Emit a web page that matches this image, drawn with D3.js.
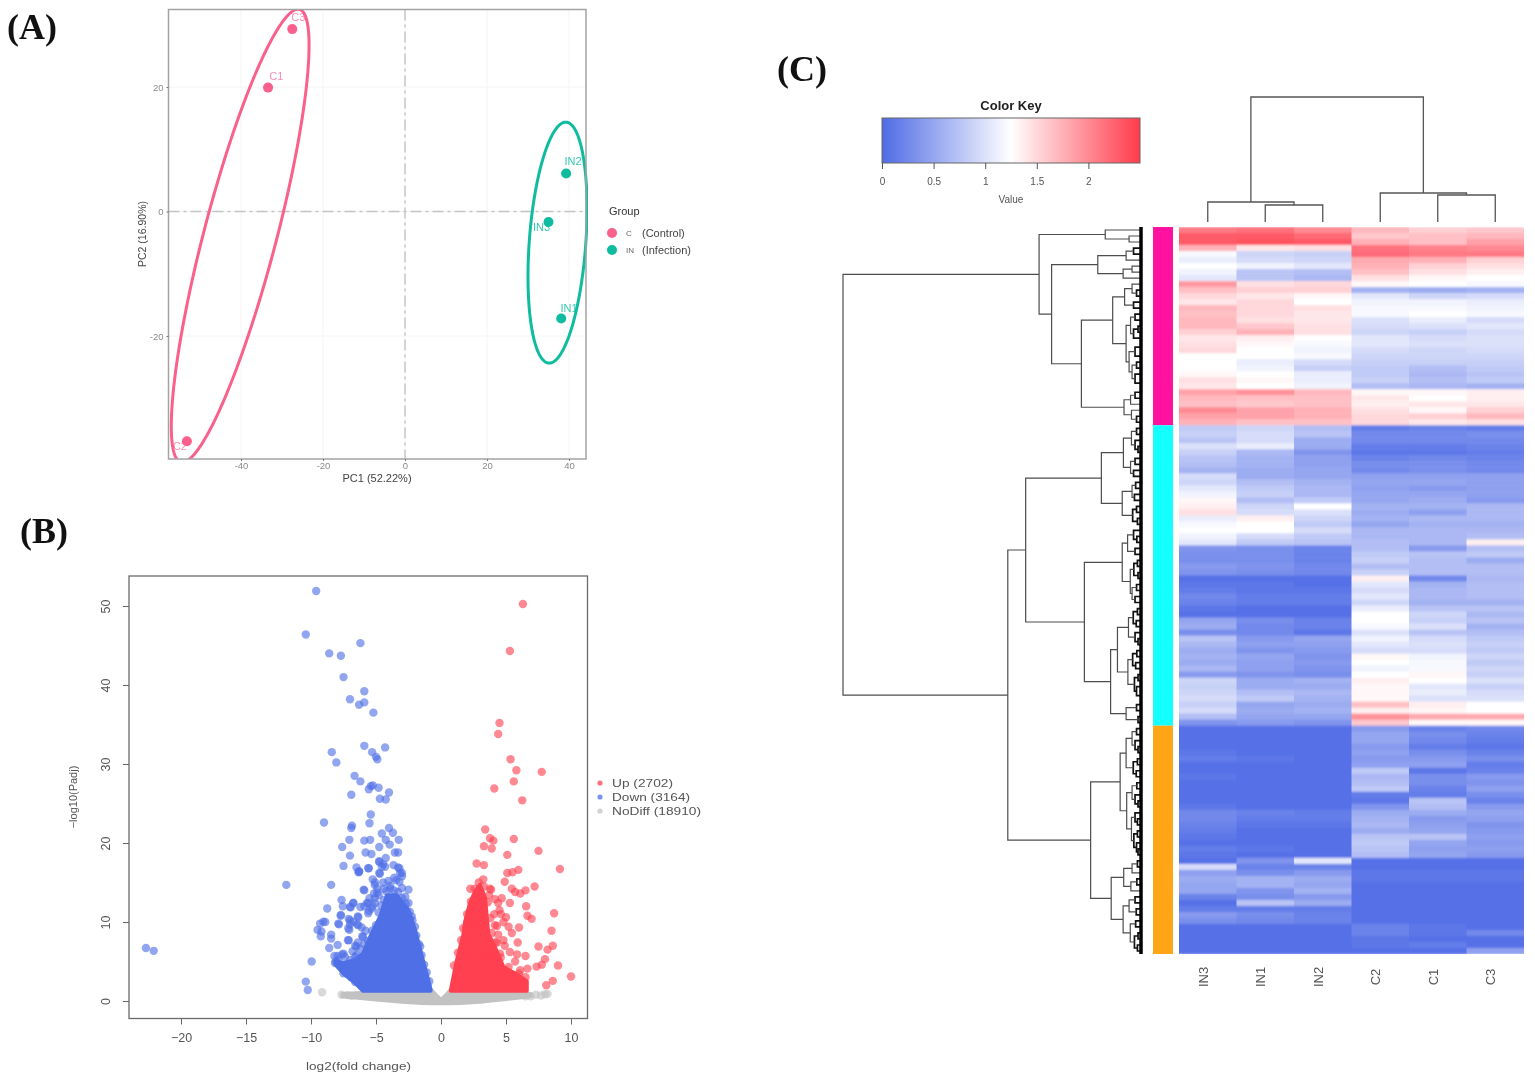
<!DOCTYPE html>
<html>
<head>
<meta charset="utf-8">
<title>PCA, volcano plot and heatmap</title>
<script src="https://cdn.jsdelivr.net/npm/d3@7"></script>
<style>
  html, body { margin: 0; padding: 0; background: #fff; }
  svg { display: block; filter: blur(0.45px); font-family: "Liberation Sans", Arial, sans-serif; }
</style>
</head>
<body>
<div id="chart"></div>
<script>
// ---- panel A: PCA ----
const pcaNames = ["C3", "C1", "C2", "IN2", "IN3", "IN1"]
const pcaGroups = ["C", "C", "C", "IN", "IN", "IN"]
const pcaX = [-27.5, -33.4, -53.2, 39.3, 35.0, 38.1]
const pcaY = [29.3, 19.9, -36.9, 6.1, -1.7, -17.2]
const pcaLabelDx = [1.5, 2, -1.7, 1.7, -1.7, 1.9]
const pcaLabelDy = [1.3, 1.3, -1.4, 1.4, -1.4, 1.1]
const pcaTicks = [-40, -20, 0, 20, 40]
const pcaYTicks = [-20, 0, 20]
const ellipseGroups = ["C", "IN"]
const ellipseCx = [-40.2, 37.2]
const ellipseCy = [-3.9, -5.0]
const ellipseSdX = [16.8, 7.2]
const ellipseSdY = [36.4, 19.35]
const ellipseRho = [0.84, 0.28]

// ---- panel B: volcano ----
const downX = [-9.6,-10.4,-6.2,-8.6,-7.7,-7.5,-5.9,-7.0,-6.3,-5.9,-5.2,-5.9,-4.3,-5.3,-8.4,-5.0,-4.9,-8.05,-6.65,-6.2,-5.4,-5.25,-5.55,-4.8,-4.0,-6.9,-4.7,-4.25,-5.4,-9.0,-5.5,-6.85,-6.9,-4.0,-3.7,-4.55,-7.05,-5.9,-5.45,-4.25,-3.25,-3.95,-7.6,-4.75,-5.8,-5.35,-3.55,-3.3,-7.0,-4.25,-4.75,-4.45,-7.5,-6.5,-5.55,-3.65,-3.3,-6.35,-4.7,-3.15,-3.0,-11.9,-8.45,-5.25,-4.05,-5.1,-5.95,-4.9,-2.5,-7.65,-6.75,-8.75,-7.0,-7.55,-5.7,-5.25,-5.55,-2.5,-7.7,-6.4,-9.05,-8.9,-7.9,-7.0,-6.45,-7.1,-9.5,-9.2,-9.25,-8.45,-7.05,-6.05,-8.45,-7.15,-8.6,-7.95,-6.5,-22.7,-22.1,-9.95,-8.1,-7.95,-7.6,-10.4,-10.25,
  -6.74,-9.3,-7.72,-7.85,-7.13,-7.0,-6.36,-6.36,-7.1,-6.0,-6.6,-5.6,-5.33,-5.6,-5.07,-6.6,-7.5,-7.9,-8.15,-7.5,-7.0,-6.3,-4.75,-4.55,-4.3,-3.2,-4.75,-3.0,-6.3,-5.6,-5.07,-3.45,-3.2,-3.0,-5.9,-4.9,-4.8,-2.75,-2.25,-2.0,-1.6,-6.95,-6.2,-5.9,-5.1,-6.75,-4.45,-3.9,-3.6,-4.4,-5.15,-5.5,
  -7.2,-6.9,-6.6,-7.0,-6.5,-6.2,-5.9,-5.6,-5.3,-5.0,-4.8,-4.6,-4.4,-4.2,-3.9,-3.6,-3.3,-3.0,-2.7,-2.4,-2.2,-1.9,-1.7,-1.5,-1.3,-1.1,-0.9,-5.8,-6.4,-6.8,-7.4,-7.8,-8.2,-6.1]
const downY = [51.9,46.4,45.3,44.0,43.7,41.0,39.2,38.2,37.5,37.8,36.5,32.3,32.1,31.5,31.5,30.9,30.6,30.2,28.5,27.8,27.2,27.3,26.8,27.0,26.4,26.1,25.6,25.5,23.6,22.6,22.5,22.2,21.9,21.9,21.3,21.2,20.4,20.3,20.4,20.4,20.4,19.8,19.5,19.5,18.8,18.6,18.8,18.8,18.4,18.1,17.7,17.3,17.1,16.9,16.8,17.2,16.9,16.3,16.1,16.2,15.8,14.7,14.7,15.4,15.2,14.7,14.1,13.7,14.1,12.8,12.4,11.7,11.9,12.0,12.4,12.0,11.4,12.4,10.9,10.7,10.05,10.0,9.8,9.7,9.7,10.4,9.0,8.8,8.2,8.4,9.0,8.2,7.9,7.7,6.7,7.1,6.9,6.7,6.35,5.0,5.0,5.7,5.9,2.45,1.4,
  12.4,9.8,10.8,9.7,9.2,10.2,10.6,9.6,7.7,8.1,7.0,12.4,11.7,11.1,12.4,5.6,6.0,5.2,4.8,3.5,4.35,16.4,17.6,17.0,17.0,16.8,16.2,16.2,16.4,16.8,15.0,15.3,15.1,14.3,14.0,14.2,13.4,13.2,10.7,9.4,6.9,11.85,11.9,12.0,13.0,10.0,15.0,14.6,15.6,14.2,13.6,13.0,
  3.4,3.0,2.4,5.2,5.8,6.6,7.2,7.6,8.9,9.6,11.2,12.1,12.8,13.9,14.2,14.0,13.8,13.0,12.3,11.3,10.2,8.3,7.2,5.8,4.6,3.6,2.5,8.9,7.4,6.3,5.6,4.6,5.7,9.3]
const upX = [6.3,5.3,4.5,4.4,5.35,5.8,7.75,5.6,4.1,6.25,3.4,3.77,4.03,3.3,3.9,5.6,5.1,7.5,2.74,3.3,9.15,5.95,5.5,5.1,4.9,3.25,2.25,3.77,5.45,7.2,6.5,6.1,5.7,4.67,4.15,4.4,5.3,6.55,4.5,8.7,6.65,6.97,4.8,4.15,5.2,6.0,5.45,8.5,5.9,7.5,8.6,8.2,4.4,4.54,5.85,6.5,5.7,4.0,8.0,7.75,7.35,9.0,6.65,6.1,10.0,8.6,8.1,4.8,4.0,3.85,4.6,5.0,4.3,
  1.0,1.3,1.55,1.7,2.0,2.3,2.6,2.9,3.3,3.6,3.8,3.9,4.2,4.6,5.2,6.0,6.5,3.7,4.1,4.3,4.9,5.3,5.3,6.4]
const upY = [50.25,44.3,35.2,33.8,30.6,29.2,29.0,27.8,26.9,25.4,21.7,20.6,20.3,19.6,19.3,20.5,18.5,19.0,17.4,17.2,16.7,16.6,16.3,16.2,15.1,15.4,14.2,14.2,14.2,14.5,14.0,13.6,13.8,13.0,12.9,12.4,12.4,12.0,11.5,11.1,10.8,10.4,10.0,9.6,9.4,9.3,8.6,8.9,7.4,6.9,7.0,6.5,8.4,6.0,5.9,5.7,5.0,4.8,5.3,4.6,4.35,4.5,4.1,3.9,3.1,2.55,2.0,7.7,6.5,14.1,11.0,10.6,7.4,
  4.5,6.1,7.7,9.2,11.0,12.6,14.2,15.0,14.5,12.5,10.5,8.6,7.4,5.5,4.3,3.5,3.0,13.4,11.0,9.5,7.0,6.2,3.4,2.2]
const noDiffX = [-9.15,-7.65,6.5,7.3,8.2,8.0,7.7,-7.2,-6.9,6.9]
const noDiffY = [1.1,0.8,0.6,0.8,0.9,0.85,0.7,0.75,0.65,0.6]
// outline of the solid part of each cloud
const downCloudX = [-8.1,-7.5,-6.6,-6.0,-5.45,-4.7,-4.15,-3.4,-2.5,-2.0,-1.4,-0.8]
const downCloudTop = [5.0,4.8,5.2,6.0,8.1,10.6,13.4,13.4,11.5,9.0,5.2,1.5]
const downCloudBottom = [4.6,3.5,2.3,1.3,1.3,1.3,1.3,1.3,1.3,1.3,1.3,1.3]
const upCloudX = [0.75,1.2,1.72,1.85,2.2,2.6,3.0,3.4,3.5,3.64,4.15,4.8,5.8,6.6]
const upCloudTop = [1.3,5.0,8.4,10.0,12.2,13.8,14.7,13.0,11.0,8.5,6.8,4.3,3.4,2.5]
const upCloudBottom = [1.3,1.3,1.3,1.3,1.3,1.3,1.3,1.3,1.3,1.3,1.3,1.3,1.3,1.3]
const grayCloudX = [-7.6,-5.0,-3.0,-1.5,-0.7,-0.3,0.0,0.3,0.7,1.5,3.0,5.0,6.9]
const grayCloudTop = [0.9,1.1,1.3,1.3,1.3,0.6,0.1,0.6,1.3,1.3,1.3,1.1,0.9]
const grayCloudBottom = [0.6,0.2,-0.1,-0.25,-0.3,-0.3,-0.3,-0.3,-0.3,-0.25,-0.1,0.25,0.6]
const volcanoXTicks = [-20, -15, -10, -5, 0, 5, 10]
const volcanoYTicks = [0, 10, 20, 30, 40, 50]
const volcanoLegend = ["Up (2702)", "Down (3164)", "NoDiff (18910)"]
const volcanoLegendWidths = [61, 78, 89]

// ---- panel C: heatmap ----
const heatCols = ["IN3", "IN1", "IN2", "C2", "C1", "C3"]
const keyTicks = [0, 0.5, 1, 1.5, 2]
const clusterSizes = [33, 50, 38]
// one line per row, same order as heatCols
const heatRows = [
[2.1,2.15,2.0,1.7,1.55,1.6],[2.3,2.3,2.2,1.6,1.65,1.7],[2.3,2.35,2.3,1.75,1.65,1.85],[1.75,1.4,1.45,2.15,2.05,2.0],
[1.2,0.9,0.85,2.2,2.1,2.1],[1.1,0.95,0.9,1.8,1.75,1.55],[1.25,1.15,1.05,1.75,1.55,1.45],[1.15,0.75,0.7,1.65,1.45,1.35],
[1.05,0.75,0.65,1.45,1.3,1.25],[1.9,1.45,1.5,1.3,1.25,1.2],[1.65,1.55,1.55,0.6,0.55,0.6],[1.5,1.4,1.3,1.05,0.9,0.95],
[1.4,1.5,1.25,1.15,1.15,1.1],[1.7,1.5,1.45,1.2,1.2,1.15],[1.65,1.5,1.4,1.2,1.25,1.2],[1.7,1.45,1.4,1.0,1.1,0.95],
[1.7,1.6,1.45,0.95,1.0,1.05],[1.55,1.75,1.45,0.9,0.85,0.95],[1.4,1.35,1.25,1.05,0.95,1.0],[1.45,1.3,1.2,1.05,1.0,1.0],
[1.5,1.25,1.15,0.95,0.9,0.95],[1.25,1.25,1.2,0.9,0.9,0.9],[1.25,1.1,0.95,0.85,0.85,0.85],[1.25,1.15,0.85,0.8,0.7,0.8],
[1.3,1.25,1.1,0.8,0.65,0.75],[1.45,1.3,1.1,0.85,0.7,0.8],[1.4,1.25,1.15,0.7,0.65,0.6],[1.85,1.95,1.7,1.3,1.3,1.35],
[1.7,1.65,1.65,1.4,1.25,1.35],[1.65,1.6,1.65,1.35,1.4,1.4],[2.0,1.85,1.75,1.45,1.3,1.55],[1.85,1.85,1.75,1.5,1.55,1.7],
[1.75,1.65,1.65,1.5,1.4,1.45],
[0.8,0.9,0.7,0.15,0.2,0.15],[0.85,0.95,0.75,0.25,0.25,0.3],[0.75,0.95,0.55,0.25,0.25,0.25],[1.0,1.1,0.55,0.15,0.15,0.2],
[0.85,0.65,0.35,0.1,0.1,0.15],[0.75,0.6,0.45,0.2,0.25,0.2],[0.7,0.6,0.45,0.3,0.3,0.25],[0.6,0.55,0.5,0.25,0.3,0.25],
[0.95,0.55,0.5,0.45,0.45,0.45],[0.9,0.7,0.6,0.5,0.5,0.45],[1.05,0.8,0.65,0.45,0.4,0.45],[1.15,0.85,0.65,0.5,0.5,0.45],
[1.3,0.7,0.8,0.5,0.55,0.4],[1.35,0.9,1.25,0.6,0.6,0.65],[1.45,0.95,1.0,0.55,0.45,0.65],[1.1,1.35,0.9,0.6,0.65,0.65],
[1.2,1.25,0.8,0.5,0.6,0.6],[1.25,1.25,0.95,0.65,0.65,0.65],[1.15,0.95,0.8,0.65,0.65,0.7],[1.05,0.8,0.75,0.7,0.65,1.35],
[0.35,0.3,0.2,0.7,0.4,0.7],[0.3,0.3,0.2,0.8,0.75,0.8],[0.3,0.3,0.2,0.85,0.7,0.55],[0.4,0.35,0.25,0.7,0.7,0.7],
[0.35,0.3,0.25,0.85,0.7,0.7],[0.05,0.05,0.05,1.35,0.25,0.65],[0.1,0.1,0.05,1.05,0.6,0.7],[0.15,0.1,0.1,0.95,0.65,0.7],
[0.25,0.15,0.15,1.05,0.65,0.7],[0.2,0.15,0.15,0.9,0.6,0.6],[0.1,0.05,0.05,1.1,0.75,0.75],[0.05,0.05,0.05,1.25,0.9,0.65],
[0.5,0.3,0.2,1.25,0.85,0.75],[0.55,0.25,0.2,1.2,1.0,0.6],[0.3,0.25,0.1,1.0,0.75,0.7],[0.75,0.4,0.5,1.15,0.95,0.8],
[0.65,0.45,0.45,1.05,1.0,0.85],[0.55,0.35,0.4,0.95,0.95,0.8],[0.6,0.5,0.35,1.3,1.15,0.9],[0.55,0.45,0.4,1.25,1.2,0.8],
[0.65,0.45,0.35,1.15,1.2,0.9],[0.4,0.35,0.3,1.25,1.3,0.85],[0.9,0.55,0.6,1.35,1.25,1.0],[0.85,0.55,0.55,1.3,1.05,0.85],
[0.9,0.7,0.65,1.3,1.1,0.95],[0.95,0.8,0.6,1.3,1.0,1.0],[0.85,0.5,0.55,1.65,1.35,1.25],[0.95,0.55,0.6,1.35,1.3,1.25],
[0.7,0.5,0.5,1.95,1.8,1.8],[0.35,0.4,0.35,1.6,1.3,1.3],
[0.05,0.05,0.05,0.4,0.2,0.25],[0.05,0.05,0.05,0.5,0.3,0.2],[0.05,0.05,0.05,0.5,0.25,0.15],[0.05,0.05,0.05,0.4,0.15,0.1],
[0.1,0.05,0.05,0.45,0.3,0.2],[0.15,0.1,0.05,0.4,0.4,0.3],[0.05,0.05,0.05,0.45,0.45,0.15],[0.05,0.05,0.05,0.8,0.1,0.2],
[0.1,0.05,0.05,0.65,0.3,0.4],[0.05,0.05,0.05,0.7,0.3,0.35],[0.05,0.05,0.05,0.8,0.2,0.45],[0.05,0.05,0.05,0.15,0.15,0.3],
[0.05,0.05,0.05,0.1,0.75,0.2],[0.1,0.05,0.05,0.35,0.7,0.4],[0.25,0.2,0.15,0.55,0.55,0.5],[0.25,0.15,0.15,0.6,0.4,0.45],
[0.2,0.1,0.1,0.65,0.45,0.35],[0.15,0.05,0.05,0.55,0.5,0.4],[0.1,0.05,0.05,0.75,0.75,0.45],[0.05,0.05,0.05,0.8,0.5,0.4],
[0.15,0.1,0.05,0.75,0.45,0.45],[0.1,0.05,0.05,0.7,0.5,0.4],[0.05,0.35,1.05,0.05,0.05,0.05],[0.95,0.2,0.2,0.05,0.05,0.05],[0.45,0.3,0.4,0.1,0.1,0.1],
[0.55,0.6,0.55,0.1,0.1,0.1],[0.5,0.6,0.5,0.05,0.05,0.05],[0.5,0.35,0.6,0.05,0.05,0.05],[0.2,0.3,0.4,0.05,0.05,0.05],
[0.05,0.75,0.55,0.05,0.05,0.05],[0.15,0.15,0.15,0.05,0.05,0.05],[0.4,0.3,0.2,0.05,0.05,0.05],[0.3,0.25,0.2,0.05,0.05,0.05],
[0.05,0.05,0.05,0.2,0.1,0.05],[0.05,0.05,0.05,0.2,0.1,0.25],[0.05,0.05,0.05,0.1,0.05,0.05],[0.05,0.05,0.05,0.1,0.15,0.05],
[0.05,0.05,0.05,0.05,0.05,0.45]
]
// dendrograms: [height, left, right], a number is a leaf covering that many rows/cols
const colTree = [100, [16, 1, [13.6, 1, 1]], [23.2, 1, [21.6, 1, 1]]]
const rowTree = [100,
  [34.2,
    [12, 1, [4, 1, 1]],
    [30,
      [14.5, [5, [2.5, 1, 1], 1], [6, [3, 1, 1], 1]],
      [20,
        [9.5,
          [5.5, [3, 1, [1.5, 1, 1]], [2.5, 1, 1]],
          [5, [3.5, [2, 1, 1], [2.5, [1, 1, 1], 1]], [4, [2, 2, 1], [3, [1.5, 1, 1], [2, 1, 2]]]]],
        [5.7, [3.5, [2, 1, 1], 1], [3.2, 1, [1.5, 1, 1]]]]]],
  [44.7,
    [38.7,
      [13.3,
        [5.9, [3.2, [1.5, 1, 1], [2, 1, [1, 1, 1]]], [3.5, [2, 1, 1], [2.5, 1, 1]]],
        [6.3, [3, [1.8, 1, 1], [2.2, 1, 1]], [2.8, [1.5, 1, 1], [1.2, 1, 1]]]],
      [19,
        [6.3, [4.5, [2.5, 1, [1.4, 1, 1]], [2, 1, 1]], [3.6, [2.4, [1.2, 1, 1], [1, 1, 1]], [3, [1.5, 1, 1], [2, 1, 1]]]],
        [10.2,
          [7.9, [4.2, [2.6, [1.2, 1, 1], [1.6, 1, 1]], [2, 1, [1, 1, 1]]], [4.4, [2.8, [1.4, 1, 1], [1.8, 1, 1]], [2.2, [1, 1, 1], [1.5, 1, 2]]]],
          [5, [1.5, 1, 1], [1, 1, 1]]]]],
    [16.9,
      [7, [5, [3, [1.5, 1, 1], [2, 1, [1, 1, 1]]], [2.6, [1.2, 1, 1], [1.6, 1, 1]]], [4.8, [3, [1.4, 1, 1], [2, 1, [1, 1, 1]]], [3.2, [2, 1, [1.2, 1, 1]], [2.4, [1.2, 1, 1], [1.5, 1, [1, 1, 1]]]]]],
      [10, [5.8, [3, [1.2, 1, 1], 1], [3.4, [1.4, 1, 1], 1]], [6, [4, [2, 1, 1], [1.6, 1, 1]], [3.6, [1.8, 1, 1], [2.2, [1, 1, 1], [1.2, 1, 1]]]]]]]]

const groupColours = { C: "#f9608c", IN: "#0fbc9f" }
const labelColours = { C: "#f98fb0", IN: "#35c9b0" }
const svg = d3.select("#chart").append("svg").attr("width", 1535).attr("height", 1082)

function panelLabel(text, x, y) {
    svg.append("text").attr("x", x).attr("y", y).text(text)
        .style("font-family", "'Liberation Serif', serif")
        .style("font-weight", "bold").style("font-size", "36px").style("fill", "#111")
}

function drawPca() {
    const xScale = d3.scaleLinear().domain([-40, 40]).range([241, 569])
    const yScale = d3.scaleLinear().domain([-20, 20]).range([336, 87])
    const box = { l: 168.5, r: 586, t: 9.5, b: 459 }
    const g = svg.append("g")

    svg.append("clipPath").attr("id", "pcaClip").append("rect")
        .attr("x", box.l).attr("y", box.t).attr("width", box.r - box.l + 2).attr("height", box.b - box.t)

    // faint grid
    pcaTicks.forEach(t => g.append("line").attr("x1", xScale(t)).attr("x2", xScale(t))
        .attr("y1", box.t).attr("y2", box.b).style("stroke", "#f4f4f4"))
    pcaYTicks.forEach(t => g.append("line").attr("y1", yScale(t)).attr("y2", yScale(t))
        .attr("x1", box.l).attr("x2", box.r).style("stroke", "#f4f4f4"))

    // reference lines through the origin
    g.append("line").attr("x1", xScale(0)).attr("x2", xScale(0)).attr("y1", box.t).attr("y2", box.b)
        .style("stroke", "#c4c4c4").style("stroke-width", 1.4).style("stroke-dasharray", "11 4 3 4")
    g.append("line").attr("y1", yScale(0)).attr("y2", yScale(0)).attr("x1", box.l).attr("x2", box.r)
        .style("stroke", "#c4c4c4").style("stroke-width", 1.4).style("stroke-dasharray", "11 4 3 4")

    // sample labels sit under the ellipse outline
    g.selectAll(".pcaLabel").data(pcaNames).join("text")
        .attr("x", (d, i) => xScale(pcaX[i] + pcaLabelDx[i]))
        .attr("y", (d, i) => yScale(pcaY[i] + pcaLabelDy[i]))
        .attr("text-anchor", "middle")
        .text(d => d)
        .style("font-size", "11px")
        .style("fill", (d, i) => labelColours[pcaGroups[i]])

    const line = d3.line().x(d => xScale(d[0])).y(d => yScale(d[1]))
    ellipseGroups.forEach((grp, i) => {
        const phase = Math.acos(ellipseRho[i])
        const outline = d3.range(0, 2 * Math.PI + 0.02, 0.02).map(t => [
            ellipseCx[i] + ellipseSdX[i] * Math.cos(t),
            ellipseCy[i] + ellipseSdY[i] * Math.cos(t - phase)
        ])
        g.append("path").attr("d", line(outline)).attr("clip-path", "url(#pcaClip)")
            .style("fill", "none").style("stroke", groupColours[grp]).style("stroke-width", 3)
    })

    g.selectAll(".pcaPoint").data(pcaNames).join("circle")
        .attr("cx", (d, i) => xScale(pcaX[i]))
        .attr("cy", (d, i) => yScale(pcaY[i]))
        .attr("r", 5)
        .style("fill", (d, i) => groupColours[pcaGroups[i]])

    g.append("rect").attr("x", box.l).attr("y", box.t).attr("width", box.r - box.l).attr("height", box.b - box.t)
        .style("fill", "none").style("stroke", "#a3a3a3").style("stroke-width", 1.5)

    // axes
    const xAxis = g.append("g").attr("transform", `translate(0,${box.b})`)
        .call(d3.axisBottom(xScale).tickValues(pcaTicks).tickSize(2).tickPadding(1).tickFormat(d3.format("d")))
    const yAxis = g.append("g").attr("transform", `translate(${box.l},0)`)
        .call(d3.axisLeft(yScale).tickValues(pcaYTicks).tickSize(2).tickFormat(d3.format("d")))
    ;[xAxis, yAxis].forEach(a => {
        a.select(".domain").remove()
        a.selectAll("text").style("font-size", "9.5px").style("fill", "#8a8a8a").style("font-family", "'Liberation Sans'")
            .text(function () { return this.textContent.replace("\u2212", "-") })
        a.selectAll("line").style("stroke", "#777")
    })

    g.append("text").attr("x", 377).attr("y", 482).attr("text-anchor", "middle").text("PC1 (52.22%)")
        .style("font-size", "11px").style("fill", "#444")
    g.append("text").attr("transform", "translate(146,234) rotate(-90)").attr("text-anchor", "middle").text("PC2 (16.90%)")
        .style("font-size", "10.5px").style("fill", "#444")

    // legend
    g.append("text").attr("x", 609).attr("y", 215).text("Group").style("font-size", "11px").style("fill", "#333")
    const legendCodes = ["C", "IN"]
    const legendNames = ["(Control)", "(Infection)"]
    const legendY = d3.scalePoint().domain(legendCodes).range([233, 250])
    legendCodes.forEach((c, i) => {
        g.append("circle").attr("cx", 612).attr("cy", legendY(c)).attr("r", 5).style("fill", groupColours[c])
        g.append("text").attr("x", 626).attr("y", legendY(c) + 3).text(c).style("font-size", "8px").style("fill", "#666")
        g.append("text").attr("x", 642).attr("y", legendY(c) + 4).text(legendNames[i]).style("font-size", "11px").style("fill", "#444")
    })
}

function drawVolcano() {
    const xScale = d3.scaleLinear().domain([-20, 10]).range([181, 571])
    const yScale = d3.scaleLinear().domain([0, 50]).range([1001, 606])
    const box = { l: 129, r: 587.5, t: 576, b: 1018.5 }
    const colours = { up: "#ff4050", down: "#4f6fe6", none: "#c2c2c2" }
    const g = svg.append("g")

    function cloud(xs, top, bottom, colour) {
        const area = d3.area().x(d => xScale(d)).y1((d, i) => yScale(top[i])).y0((d, i) => yScale(bottom[i]))
        g.append("path").attr("d", area(xs))
            .style("fill", colour).style("stroke", colour).style("stroke-width", 4).style("stroke-linejoin", "round")
    }
    function dots(xs, ys, colour) {
        g.append("g").selectAll("circle").data(xs).join("circle")
            .attr("cx", d => xScale(d))
            .attr("cy", (d, i) => yScale(ys[i]))
            .attr("r", 4.2)
            .style("fill", colour).style("opacity", 0.62)
    }

    cloud(grayCloudX, grayCloudTop, grayCloudBottom, colours.none)
    dots(noDiffX, noDiffY, colours.none)
    cloud(downCloudX, downCloudTop, downCloudBottom, colours.down)
    cloud(upCloudX, upCloudTop, upCloudBottom, colours.up)
    dots(downX, downY, colours.down)
    dots(upX, upY, colours.up)

    g.append("rect").attr("x", box.l).attr("y", box.t).attr("width", box.r - box.l).attr("height", box.b - box.t)
        .style("fill", "none").style("stroke", "#6b6b6b").style("stroke-width", 1.3)

    const xAxis = g.append("g").attr("transform", `translate(0,${box.b})`)
        .call(d3.axisBottom(xScale).tickValues(volcanoXTicks).tickSize(6).tickPadding(6).tickFormat(d3.format("d")))
    const yAxis = g.append("g").attr("transform", `translate(${box.l},0)`)
        .call(d3.axisLeft(yScale).tickValues(volcanoYTicks).tickSize(6).tickPadding(6).tickFormat(d3.format("d")))
    ;[xAxis, yAxis].forEach(a => {
        a.select(".domain").remove()
        a.selectAll("text").style("font-size", "12.5px").style("fill", "#555").style("font-family", "'Liberation Sans'")
        a.selectAll("line").style("stroke", "#666")
    })
    xAxis.selectAll("text").attr("dy", "0.9em")
    yAxis.selectAll("text")
        .attr("x", 0).attr("dy", "0.35em").attr("text-anchor", "middle")
        .attr("transform", "translate(-23,0) rotate(-90)")

    // this scan is stretched sideways, so these texts get their width from textLength
    g.append("text").attr("x", 306).attr("y", 1070).text("log2(fold change)")
        .attr("textLength", 105).attr("lengthAdjust", "spacingAndGlyphs")
        .style("font-size", "11.5px").style("fill", "#555")
    g.append("text").attr("transform", "translate(77,797) rotate(-90)").attr("text-anchor", "middle").text("\u2212log10(Padj)")
        .style("font-size", "11px").style("fill", "#555")

    const legendColours = [colours.up, colours.down, colours.none]
    const legendY = d3.scalePoint().domain(volcanoLegend).range([783, 811])
    volcanoLegend.forEach((t, i) => {
        g.append("circle").attr("cx", 600).attr("cy", legendY(t)).attr("r", 2.6)
            .style("fill", legendColours[i]).style("opacity", 0.75)
        g.append("text").attr("x", 612).attr("y", legendY(t) + 4).text(t)
            .attr("textLength", volcanoLegendWidths[i]).attr("lengthAdjust", "spacingAndGlyphs")
            .style("font-size", "11.5px").style("fill", "#555")
    })
}

// walks a [height, left, right] tree, leaves take the next slots along the axis
function treeSegments(tree, posScale) {
    let slot = 0
    const segs = []
    function walk(node) {
        if (typeof node === "number") {
            const mid = slot + node / 2
            slot += node
            return { h: 0, p: posScale(mid) }
        }
        const a = walk(node[1])
        const b = walk(node[2])
        const h = node[0]
        segs.push([[a.h, a.p], [h, a.p], [h, b.p], [b.h, b.p]])
        return { h: h, p: (a.p + b.p) / 2 }
    }
    walk(tree)
    return segs
}

function drawHeatmap() {
    const heatLeft = 1179, heatRight = 1524, heatTop = 227, heatBottom = 954
    const colour = d3.scaleLinear().domain([0, 1.25, 2.5]).range(["#4f6be6", "#ffffff", "#ff3b4b"])
    const xBand = d3.scaleBand().domain(heatCols).range([heatLeft, heatRight])
    const rowPos = d3.scaleLinear().domain([0, heatRows.length]).range([heatTop, heatBottom])
    const defs = svg.append("defs")
    const g = svg.append("g")

    // the rows run together a little in the scan, so soften only along y
    defs.append("filter").attr("id", "rowSoft").attr("filterUnits", "userSpaceOnUse")
        .attr("x", heatLeft).attr("y", heatTop).attr("width", heatRight - heatLeft).attr("height", heatBottom - heatTop)
        .append("feGaussianBlur").attr("stdDeviation", "0 1.1")

    // cells
    const cells = g.append("g").attr("filter", "url(#rowSoft)")
    heatRows.forEach((row, r) => {
        cells.append("g").selectAll("rect").data(row).join("rect")
            .attr("x", (d, i) => xBand(heatCols[i]))
            .attr("y", rowPos(r))
            .attr("width", xBand.bandwidth() + 0.5)
            .attr("height", rowPos(r + 1) - rowPos(r) + 0.5)
            .style("fill", d => colour(d))
    })

    // cluster side bar
    const clusterColours = ["#ff12a0", "#14ffff", "#ffa516"]
    let start = 0
    clusterSizes.forEach((n, i) => {
        g.append("rect").attr("x", 1153).attr("width", 20)
            .attr("y", rowPos(start)).attr("height", rowPos(start + n) - rowPos(start))
            .style("fill", clusterColours[i])
        start += n
    })

    // column labels
    g.selectAll(".colLabel").data(heatCols).join("text")
        .attr("transform", d => `translate(${xBand(d) + xBand.bandwidth() / 2},977) rotate(-90)`)
        .attr("text-anchor", "middle").text(d => d)
        .style("font-size", "13px").style("fill", "#555")

    // column dendrogram
    const colPos = d3.scaleLinear().domain([0, heatCols.length]).range([heatLeft, heatRight])
    const colH = d3.scaleLinear().domain([0, 100]).range([222, 97])
    const colLine = d3.line().x(d => d[1]).y(d => colH(d[0]))
    g.append("g").selectAll("path").data(treeSegments(colTree, colPos)).join("path")
        .attr("d", colLine)
        .style("fill", "none").style("stroke", "#555").style("stroke-width", 1.3)

    // row dendrogram, tips are much darker in the reference
    const rowH = d3.scaleLinear().domain([0, 100]).range([1141, 843])
    const rowLine = d3.line().x(d => rowH(d[0])).y(d => d[1])
    g.append("g").selectAll("path").data(treeSegments(rowTree, rowPos)).join("path")
        .attr("d", rowLine)
        .style("fill", "none")
        .style("stroke", d => d[1][0] < 3 ? "#111" : "#4d4d4d")
        .style("stroke-width", d => d[1][0] < 3 ? 1.7 : 1.2)
    g.append("line").attr("x1", rowH(0)).attr("x2", rowH(0)).attr("y1", heatTop).attr("y2", heatBottom)
        .style("stroke", "#000").style("stroke-width", 3.5)

    // colour key
    const keyX = d3.scaleLinear().domain([0, 2.5]).range([882, 1140])
    const grad = defs.append("linearGradient").attr("id", "keyGrad")
    colour.domain().forEach(v => grad.append("stop")
        .attr("offset", (v / 2.5 * 100) + "%")
        .attr("stop-color", colour(v)))
    g.append("rect").attr("x", keyX(0)).attr("y", 118).attr("width", keyX(2.5) - keyX(0)).attr("height", 45)
        .style("fill", "url(#keyGrad)").style("stroke", "#666").style("stroke-width", 1)
    const keyAxis = g.append("g").attr("transform", "translate(0,163)")
        .call(d3.axisBottom(keyX).tickValues(keyTicks).tickSize(6).tickPadding(9).tickFormat(d => d))
    keyAxis.select(".domain").remove()
    keyAxis.selectAll("text").style("font-size", "10px").style("fill", "#555").style("font-family", "'Liberation Sans'")
    keyAxis.selectAll("line").style("stroke", "#555")
    g.append("text").attr("x", 1011).attr("y", 110).attr("text-anchor", "middle").text("Color Key")
        .style("font-size", "13px").style("font-weight", "bold").style("fill", "#222")
    g.append("text").attr("x", 1011).attr("y", 203).attr("text-anchor", "middle").text("Value")
        .style("font-size", "10px").style("fill", "#555")
}

drawPca()
drawVolcano()
drawHeatmap()
panelLabel("(A)", 7, 39)
panelLabel("(B)", 20, 543)
panelLabel("(C)", 777, 81)
</script>
</body>
</html>
